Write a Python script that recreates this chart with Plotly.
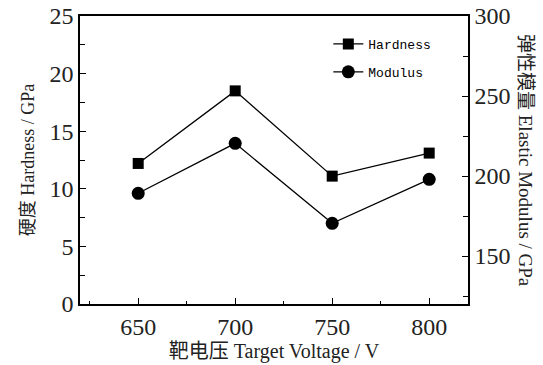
import plotly.graph_objects as go

voltage = [650, 700, 750, 800]
hardness = [12.2, 18.5, 11.1, 13.1]
modulus = [189.2, 220.4, 170.4, 197.9]

x_ticks = [650, 700, 750, 800]
y_left_ticks = [0, 5, 10, 15, 20, 25]
y_right_ticks = [150, 200, 250, 300]

serif = "Liberation Serif, Times New Roman, Noto Sans CJK SC, serif"
mono = "Liberation Mono, DejaVu Sans Mono, monospace"

fig = go.Figure()
fig.add_trace(go.Scatter(
    x=voltage, y=hardness, name="Hardness", mode="lines+markers",
    line=dict(color="black", width=1.3),
    marker=dict(symbol="square", size=11, color="black"),
    legendgroup="h", yaxis="y"))
fig.add_trace(go.Scatter(
    x=voltage, y=modulus, name="Modulus", mode="lines+markers",
    line=dict(color="black", width=1.3),
    marker=dict(symbol="circle", size=13, color="black"),
    legendgroup="m", yaxis="y2"))

axis_common = dict(showline=True, linecolor="black", linewidth=1.5,
                   showgrid=False, zeroline=False, ticks="inside",
                   tickcolor="black", tickwidth=1.2, automargin=False,
                   tickfont=dict(family=serif, size=24, color="#222"))

fig.update_layout(
    width=543, height=365,
    margin=dict(l=80, r=75, t=16, b=61),
    paper_bgcolor="white", plot_bgcolor="white",
    showlegend=True,
    legend=dict(x=0.64, y=0.955, xanchor="left", yanchor="top",
                bgcolor="rgba(0,0,0,0)", itemwidth=30,
                tracegroupgap=8,
                font=dict(family=mono, size=13, color="black")),
    xaxis=dict(range=[620, 820], tickmode="array", tickvals=x_ticks,
               ticklen=6, mirror=True,
               minor=dict(ticks="inside", dtick=25, tick0=625, ticklen=3,
                          tickcolor="black"),
               title=dict(text="靶电压 Target Voltage / V",
                          font=dict(family=serif, size=20, color="#222"),
                          standoff=2),
               **axis_common),
    yaxis=dict(range=[0, 25], tickmode="array", tickvals=y_left_ticks,
               ticklen=6,
               minor=dict(ticks="inside", dtick=2.5, ticklen=5,
                          tickcolor="black"),
               title=dict(text="硬度 Hardness / GPa",
                          font=dict(family=serif, size=18, color="#222"),
                          standoff=10),
               **axis_common),
    yaxis2=dict(range=[120, 300], overlaying="y", side="right",
                tickmode="array", tickvals=y_right_ticks, ticklen=6,
                minor=dict(ticks="inside", tickvals=[125, 175, 225, 275],
                           ticklen=5, tickcolor="black"),
                **axis_common),
)

fig.add_annotation(text="弹性模量 Elastic Modulus / GPa", textangle=90,
                   xref="paper", yref="paper", x=1.0, y=0.5,
                   xanchor="center", yanchor="middle",
                   xshift=58, showarrow=False,
                   font=dict(family=serif, size=19, color="#222"))

fig.write_html("out.html")
